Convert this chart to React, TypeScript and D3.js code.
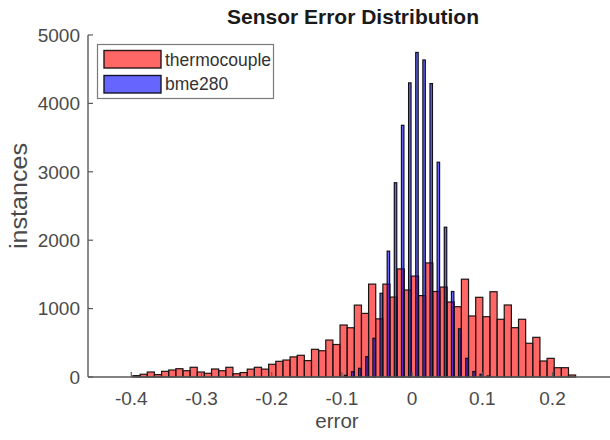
import React from "react";
import * as d3 from "d3";

// ---- data ----
const seriesNames = ["thermocouple", "bme280"];
// thermocouple histogram: first bin edge and bin width (error units)
const thermoStart = -0.3976;
const thermoBinWidth = 0.01017;
const thermoCounts = [
  20, 40, 73, 35, 83, 102, 121, 92, 142, 73, 54, 117, 92, 142, 48, 65, 115, 142, 115, 186,
  229, 248, 294, 317, 240, 405, 384, 540, 475, 760, 720, 1051, 930, 1358, 850, 1358, 1168, 1580,
  1272, 1475, 1190, 1668, 1250, 1315, 1096, 1028, 1430, 892, 1165, 882, 1247, 844, 1053, 721,
  844, 493, 580, 234, 273, 136, 136, 29,
];
// bme280 histogram: narrow bins (quantised sensor), first bin centre and spacing
const bmeFirstCentre = -0.0948;
const bmeSpacing = 0.01017;
const bmeBinWidth = 0.0035;
const bmeCounts = [
  25, 77, 127, 297, 566, 1224, 1840, 2840, 3680, 4300, 4745, 4635, 4290, 3140, 2190, 1250, 705,
  273, 80, 40, 15,
];
const xTicks = [-0.4, -0.3, -0.2, -0.1, 0, 0.1, 0.2];
const xTickLabels = ["-0.4", "-0.3", "-0.2", "-0.1", "0", "0.1", "0.2"];
const yTicks = [0, 1000, 2000, 3000, 4000, 5000];
const xDomain = [-0.4617, 0.2933];
const yDomain = [0, 5000];

const W = 610;
const H = 440;
const FONT = "'Liberation Sans', Arial, Helvetica, sans-serif";

export default function App() {
  const x = d3.scaleLinear().domain(xDomain).range([88, 618]);
  const y = d3.scaleLinear().domain(yDomain).range([377, 35]);

  const thermoBars = thermoCounts.map((c, i) => {
    const x0 = thermoStart + i * thermoBinWidth;
    return { x0, x1: x0 + thermoBinWidth, c };
  });
  const bmeBars = bmeCounts.map((c, i) => {
    const ctr = bmeFirstCentre + i * bmeSpacing;
    return { x0: ctr - bmeBinWidth / 2, x1: ctr + bmeBinWidth / 2, c };
  });

  const axisColor = "#5a5a5a";
  const textColor = "#4a4a4a";

  return (
    <svg
      width={W}
      height={H}
      style={{ position: "absolute", left: 0, top: 0, background: "#fff" }}
      fontFamily={FONT}
    >
      <rect x={0} y={0} width={W} height={H} fill="#fff" />
      {/* thermocouple bars */}
      {thermoBars.map((b, i) => (
        <rect
          key={"t" + i}
          x={x(b.x0)}
          y={y(b.c)}
          width={x(b.x1) - x(b.x0)}
          height={y(0) - y(b.c)}
          fill="#ff0000"
          fillOpacity={0.6}
          stroke="#1e1414"
          strokeWidth={1.2}
        />
      ))}
      {/* bme280 bars */}
      {bmeBars.map((b, i) => (
        <rect
          key={"b" + i}
          x={x(b.x0)}
          y={y(b.c)}
          width={x(b.x1) - x(b.x0)}
          height={y(0) - y(b.c)}
          fill="#0000ff"
          fillOpacity={0.6}
          stroke="#101018"
          strokeWidth={1.2}
        />
      ))}
      {/* axes */}
      <line x1={88} y1={y(0)} x2={618} y2={y(0)} stroke={axisColor} strokeWidth={1.4} />
      <line x1={88} y1={y(5000)} x2={88} y2={y(0)} stroke={axisColor} strokeWidth={1.4} />
      {yTicks.map((t) => (
        <g key={"yt" + t}>
          <line x1={88} x2={93} y1={y(t)} y2={y(t)} stroke={axisColor} strokeWidth={1.2} />
          <text
            x={80}
            y={y(t)}
            dy="0.36em"
            textAnchor="end"
            fontSize={19}
            fill={textColor}
          >
            {t}
          </text>
        </g>
      ))}
      {xTicks.map((t, i) => (
        <g key={"xt" + t}>
          <line x1={x(t)} x2={x(t)} y1={y(0)} y2={y(0) - 5} stroke={axisColor} strokeWidth={1.2} />
          <text x={x(t)} y={405} textAnchor="middle" fontSize={19} fill={textColor}>
            {xTickLabels[i]}
          </text>
        </g>
      ))}
      {/* labels */}
      <text x={337} y={428} textAnchor="middle" fontSize={20.5} fill={textColor}>
        error
      </text>
      <text
        transform="translate(26.5,196) rotate(-90)"
        textAnchor="middle"
        fontSize={23.5}
        fill={textColor}
        textLength={106}
        lengthAdjust="spacingAndGlyphs"
      >
        instances
      </text>
      <text x={353} y={24} textAnchor="middle" fontSize={21} fontWeight="bold" fill="#1a1a1a">
        Sensor Error Distribution
      </text>
      {/* legend */}
      <rect x={97.5} y={44.5} width={176} height={54} fill="#fff" stroke="#7a7a7a" strokeWidth={1.2} />
      <rect x={104} y={50.5} width={57} height={17.5} fill="#ff0000" fillOpacity={0.6} stroke="#2a1515" strokeWidth={1.4} />
      <rect x={104} y={75.5} width={57} height={17.5} fill="#0000ff" fillOpacity={0.6} stroke="#15152a" strokeWidth={1.4} />
      <text x={165} y={60} dy="0.36em" fontSize={17.5} fill="#333">
        {seriesNames[0]}
      </text>
      <text x={165} y={84} dy="0.36em" fontSize={17.5} fill="#333">
        {seriesNames[1]}
      </text>
    </svg>
  );
}
